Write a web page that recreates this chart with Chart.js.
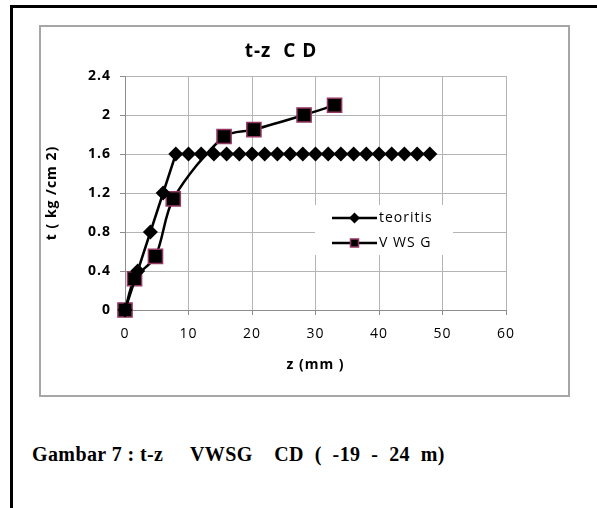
<!DOCTYPE html>
<html>
<head>
<meta charset="utf-8">
<script src="https://cdn.jsdelivr.net/npm/chart.js@4.4.1/dist/chart.umd.min.js"></script>
<style>
    html, body { margin: 0; padding: 0; background: #fff; width: 597px; height: 508px; overflow: hidden; }
    #frame { position: absolute; left: 10px; top: 5px; width: 640px; height: 560px; border: 3px solid #000; box-sizing: border-box; }
    #box { position: absolute; left: 39px; top: 25px; width: 531px; height: 372px; border: 2px solid #a6a6a6; box-sizing: border-box; background: #fff; }
    #title { position: absolute; left: 181px; top: 39px; width: 200px; text-align: center; font: bold 19px/22px 'Open Sans', sans-serif; letter-spacing: 1px; white-space: pre; color: #000; }
    #caption { position: absolute; left: 32px; top: 443px; font: bold 20px "Liberation Serif", "Times New Roman", serif; letter-spacing: 0.4px; white-space: pre; color: #000; }
</style>
</head>
<body>
<div id="frame"></div>
<div id="box"><canvas id="chartTZ"></canvas></div>
<div id="title">t-z  C D</div>
<div id="caption">Gambar 7 : t-z     VWSG    CD  (  -19  -  24  m)</div>

<script>
'use strict';

// ─── Data ──────────────────────────────────────────────────────────────────────
const teoZ = [0, 2, 4, 6, 8, 10, 12, 14, 16, 18, 20, 22, 24, 26, 28, 30, 32, 34, 36, 38, 40, 42, 44, 46, 48];
const teoT = [0, 0.4, 0.8, 1.2, 1.6, 1.6, 1.6, 1.6, 1.6, 1.6, 1.6, 1.6, 1.6, 1.6, 1.6, 1.6, 1.6, 1.6, 1.6, 1.6, 1.6, 1.6, 1.6, 1.6, 1.6];

const vwsgZ = [0, 1.5, 4.8, 7.6, 15.6, 20.3, 28.2, 33];
const vwsgT = [0, 0.32, 0.55, 1.14, 1.78, 1.85, 2.0, 2.1];

const seriesNames = ['teoritis', 'V WS G'];
const xTicks = ['0', '10', '20', '30', '40', '50', '60'];
const yTicks = ['0', '0.4', '0.8', '1.2', '1.6', '2', '2.4'];

const FONT = "'Open Sans', 'Noto Sans', sans-serif";
const gridColor = '#b4b4b4';
const axisColor = '#8c8c8c';
const sqBorder = '#953763';

function toPoints(xs, ys) {
    return xs.map((x, i) => ({ x, y: ys[i] }));
}

// the exported chart has loose letter spacing everywhere
const looseText = {
    id: 'looseText',
    beforeUpdate(chart) { chart.ctx.letterSpacing = '1px'; },
    beforeDraw(chart) { chart.ctx.letterSpacing = '1px'; }
};

// legend drawn inside the plot, Excel style
const insideLegend = {
    id: 'insideLegend',
    afterDraw(chart) {
        const { ctx, chartArea } = chart;
        const bx = chartArea.left + 190, by = chartArea.top + 129;
        ctx.save();
        ctx.fillStyle = '#fff';
        ctx.fillRect(bx, by, 138, 50);
        const rows = [chartArea.top + 142, chartArea.top + 167];
        const x0 = chartArea.left + 207, x1 = chartArea.left + 252, mx = (x0 + x1) / 2;
        rows.forEach((y, i) => {
            ctx.strokeStyle = '#000';
            ctx.lineWidth = 2.5;
            ctx.beginPath(); ctx.moveTo(x0, y); ctx.lineTo(x1, y); ctx.stroke();
            ctx.fillStyle = '#000';
            if (i === 0) {
                ctx.beginPath();
                ctx.moveTo(mx - 5.5, y); ctx.lineTo(mx, y - 5.5); ctx.lineTo(mx + 5.5, y); ctx.lineTo(mx, y + 5.5);
                ctx.closePath(); ctx.fill();
            } else {
                ctx.fillRect(mx - 4, y - 4, 8, 8);
                ctx.strokeStyle = sqBorder; ctx.lineWidth = 1.5;
                ctx.strokeRect(mx - 4, y - 4, 8, 8);
            }
            ctx.fillStyle = '#000';
            ctx.font = '14px ' + FONT;
            ctx.textBaseline = 'middle';
            ctx.textAlign = 'left';
            ctx.fillText(seriesNames[i], x1 + 2, y);
        });
        ctx.restore();
    }
};

const ctx = document.getElementById('chartTZ');
new Chart(ctx, {
    type: 'scatter',
    data: {
        datasets: [
            {
                label: seriesNames[0],
                data: toPoints(teoZ, teoT),
                showLine: true, clip: false,
                borderColor: '#000', borderWidth: 2.5,
                backgroundColor: '#000',
                pointStyle: 'rectRot', pointRadius: 7.5,
                pointBorderWidth: 0,
                tension: 0,
            },
            {
                label: seriesNames[1],
                data: toPoints(vwsgZ, vwsgT),
                showLine: true, clip: false,
                borderColor: '#000', borderWidth: 2.5,
                backgroundColor: '#000',
                pointStyle: 'rect', pointRadius: 10,
                pointBorderColor: sqBorder, pointBorderWidth: 1.5,
                tension: 0.3,
            },
        ],
    },
    options: {
        responsive: true, maintainAspectRatio: false,
        animation: false,
        layout: { padding: { left: 0, right: 62, top: 49, bottom: 0 } },
        plugins: {
            legend: { display: false },
            tooltip: { enabled: false },
            title: { display: false },
        },
        scales: {
            x: {
                type: 'linear', min: 0, max: 60,
                afterFit: s => { s.height = 85; },
                grid: { color: gridColor, tickLength: 5, tickColor: axisColor },
                border: { color: axisColor, width: 1 },
                ticks: {
                    stepSize: 10, color: '#000', padding: 11,
                    font: { family: FONT, size: 14 },
                    callback: (v, i) => xTicks[i],
                },
                title: {
                    display: true, text: 'z (mm )', color: '#000',
                    font: { family: FONT, size: 14, weight: 'bold' },
                    padding: { top: 0, bottom: 22 },
                },
            },
            y: {
                min: 0, max: 2.4,
                afterFit: s => { s.width = 84; },
                grid: { color: gridColor, tickLength: 5, tickColor: axisColor },
                border: { color: axisColor, width: 1 },
                ticks: {
                    stepSize: 0.4, color: '#000', padding: 9,
                    font: { family: FONT, size: 14, weight: 'bold' },
                    callback: (v, i) => yTicks[i],
                },
                title: {
                    display: true, text: 't ( kg /cm 2)', color: '#000',
                    font: { family: FONT, size: 14, weight: 'bold' },
                    padding: { top: 3, bottom: 0 },
                },
            },
        },
    },
    plugins: [looseText, insideLegend],
});
</script>
</body>
</html>
